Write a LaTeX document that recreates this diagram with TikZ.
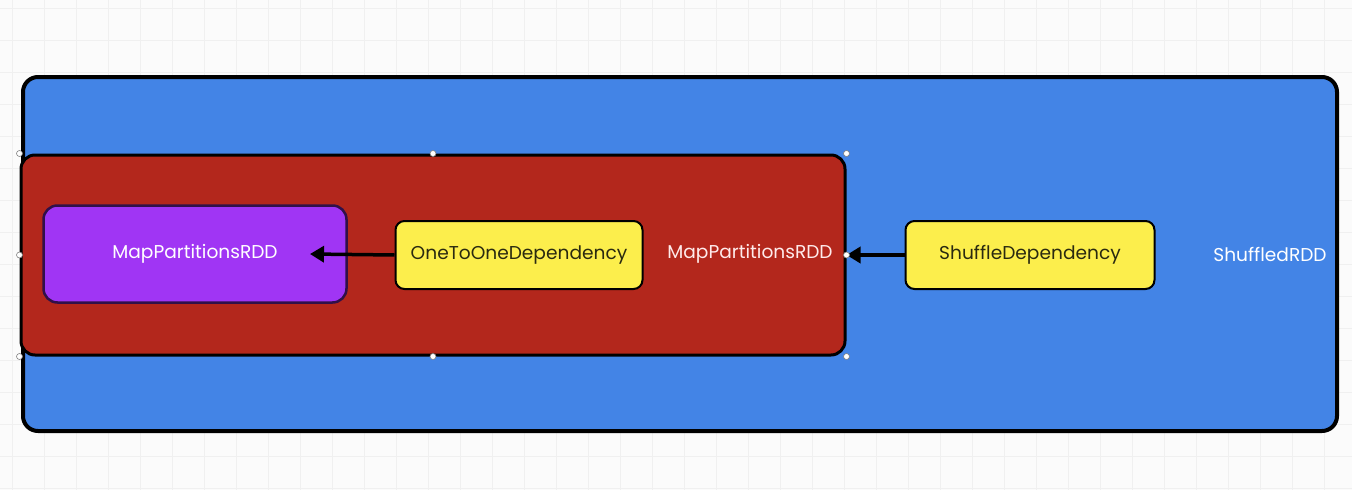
\documentclass[tikz,border=0pt]{standalone}
\usepackage{fontspec}
\setmainfont{Poppins}
\usetikzlibrary{arrows.meta}
\definecolor{bluebg}{HTML}{4384E6}
\definecolor{redbg}{HTML}{B3271C}
\definecolor{purp}{HTML}{A035F4}
\definecolor{yel}{HTML}{FCEE4C}
\definecolor{txtdark}{HTML}{2A2A10}
\tikzset{
  lbl/.style={font=\fontsize{18.6}{22}\selectfont, inner sep=0pt},
  depbox/.style={draw=black, line width=2pt, rounded corners=9pt, fill=yel, text=txtdark, font=\fontsize{18.6}{22}\selectfont, inner sep=0pt},
  handle/.style={circle, draw=gray, fill=white, line width=0.6pt, inner sep=0pt, minimum size=6pt},
  conn/.style={line width=3.5pt, -{Triangle[length=14pt,width=16pt]}}
}
\begin{document}
\begin{tikzpicture}[x=1pt,y=-1pt]
\useasboundingbox (0,0) rectangle (1352,490);
\fill[white!97!gray] (0,0) rectangle (1352,490);
\foreach \gx in {12,44,...,1352} \draw[gray!12, line width=0.8pt] (\gx,0) -- (\gx,490);
\foreach \gy in {8,40,...,490} \draw[gray!12, line width=0.8pt] (0,\gy) -- (1352,\gy);
% outer ShuffledRDD
\node[draw=black, line width=4pt, rounded corners=15pt, fill=bluebg, minimum width=1314pt, minimum height=354pt, inner sep=0pt] (shuf) at (680,254) {};
% red MapPartitionsRDD
\node[draw=black, line width=3pt, rounded corners=14pt, fill=redbg, minimum width=824pt, minimum height=200pt, inner sep=0pt] (mpr) at (433,255) {};
% purple
\node[draw=black!70!purp, line width=2.5pt, rounded corners=14pt, fill=purp, minimum width=303pt, minimum height=97pt, inner sep=0pt, text=white, font=\fontsize{18.6}{22}\selectfont] (mp) at (195,254) {MapPartitionsRDD};
\node[depbox, minimum width=247pt, minimum height=68pt] (o2o) at (519,255) {OneToOneDependency};
\node[depbox, minimum width=249pt, minimum height=68pt] (sd) at (1030,255) {ShuffleDependency};
\node[lbl, text=white!92!red] (mprl) at (750,254) {MapPartitionsRDD};
\node[lbl, text=white] (shufl) at (1270,254) {ShuffledRDD};
\coordinate (mpend) at (310,254);
\draw[conn] (o2o.west) -- (mpend);
\draw[conn] (sd.west) -- (mpr.east);
% selection handles
\foreach \p in {(mpr.north west),(mpr.north),(mpr.north east),(mpr.west),(mpr.east),(mpr.south west),(mpr.south),(mpr.south east)}
  \node[handle] at \p {};
\end{tikzpicture}
\end{document}
